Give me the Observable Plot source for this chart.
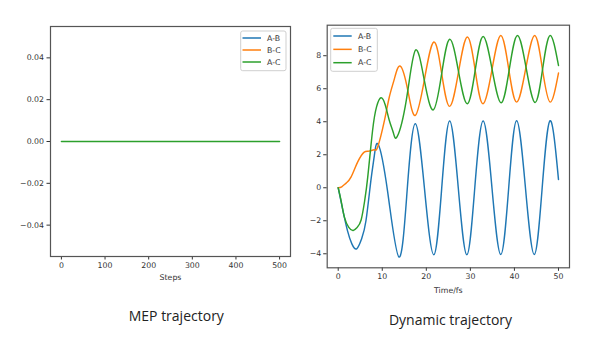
<!DOCTYPE html>
<html><head><meta charset="utf-8">
<script src="https://cdn.jsdelivr.net/npm/d3@7"></script>
<script src="https://cdn.jsdelivr.net/npm/@observablehq/plot@0.6"></script>
<style>
html,body{margin:0;padding:0;background:#fff;}
#wrap{position:relative;width:600px;height:337px;overflow:hidden;}
#wrap svg{overflow:visible;}
.panel{position:absolute;top:0;}
</style></head><body><div id="wrap"></div>
<script>
// ---------- data ----------
const seriesNames = ["A-B", "B-C", "A-C"];
const seriesColors = ["#1f77b4", "#ff7f0e", "#2ca02c"];

// MEP trajectory (all flat at zero)
const mepSteps = [0, 500];
const mepAB = [0, 0];
const mepBC = [0, 0];
const mepAC = [0, 0];
const mepXTicks = [0, 100, 200, 300, 400, 500];
const mepYTicks = [-0.04, -0.02, 0, 0.02, 0.04];

// Dynamic trajectory
const abTime = [0, 1.0, 2.1, 3.1, 4.2, 5.3, 6.3, 7.4, 8.2, 9.1, 11.2, 13.8, 15.65, 17.5, 19.6, 21.7, 23.5, 25.3, 27.25, 29.2, 31.0, 32.9, 34.9, 36.9, 38.7, 40.5, 42.5, 44.5, 46.3, 48.1, 50];
const abDist = [0, -1.3, -2.6, -3.4, -3.7, -3.1, -2.0, 0.4, 1.95, 2.62, -0.2, -4.2, -0.15, 3.88, -0.1, -4.06, 0, 4.04, 0, -4.06, 0, 4.04, 0, -4.04, 0, 4.06, 0, -4.04, 0, 4.06, 0.5];

const bcTime = [0, 0.8, 1.8, 2.9, 4.4, 5.9, 7.0, 8.2, 9.0, 10.5, 11.6, 12.75, 14.1, 15.8, 17.5, 19.6, 21.7, 23.5, 25.3, 27.3, 29.3, 31.1, 32.85, 34.9, 36.9, 38.7, 40.5, 42.55, 44.6, 46.35, 48.1, 50];
const bcDist = [0, 0.06, 0.28, 0.64, 1.55, 2.16, 2.22, 2.3, 2.5, 4.08, 5.5, 6.6, 7.37, 5.9, 4.38, 6.6, 8.83, 6.9, 4.93, 7.0, 9.13, 7.1, 5.09, 7.15, 9.23, 7.2, 5.19, 7.2, 9.23, 7.2, 5.19, 6.95];

const acTime = [0, 0.7, 1.4, 2.4, 3.4, 4.3, 5.2, 6.0, 6.7, 7.8, 8.7, 9.7, 10.7, 11.6, 12.5, 13.4, 15.45, 17.5, 19.55, 21.6, 23.45, 25.3, 27.3, 29.3, 31.1, 32.9, 34.95, 37.0, 38.85, 40.7, 42.7, 44.7, 46.4, 48.1, 50];
const acDist = [0, -0.85, -1.78, -2.4, -2.59, -2.4, -1.95, -0.8, 0.64, 3.47, 4.9, 5.45, 5.0, 4.08, 3.35, 3.11, 5.3, 8.32, 6.5, 4.72, 6.85, 9.0, 7.05, 5.09, 7.13, 9.17, 7.15, 5.15, 7.2, 9.23, 7.2, 5.17, 7.2, 9.23, 7.41];

const dynXTicks = [0, 10, 20, 30, 40, 50];
const dynYTicks = [-4, -2, 0, 2, 4, 6, 8];

const captions = ["MEP trajectory", "Dynamic trajectory"];
const xLabels = ["Steps", "Time/fs"];

// ---------- helpers ----------
const toRows = (xs, ys) => xs.map((x, i) => ({x, y: ys[i]}));
const baseStyle = {fontFamily: "DejaVu Sans, sans-serif", fontSize: "7.8px", color: "#333", background: "transparent", overflow: "visible"};

function seriesMarks(sets, curve, widths = [1.45, 1.45, 1.45]) {
  return sets.map((rows, i) => Plot.line(rows, {x: "x", y: "y", stroke: seriesColors[i], strokeWidth: widths[i], curve}));
}

const wrap = document.getElementById("wrap");

// ---------- left panel ----------
const mepPlot = Plot.plot({
  width: 300, height: 337,
  marginLeft: 50, marginRight: 10, marginTop: 26, marginBottom: 81,
  style: baseStyle,
  x: {domain: [-25, 525]},
  y: {domain: [-0.055, 0.055]},
  marks: [
    ...seriesMarks([toRows(mepSteps, mepAB), toRows(mepSteps, mepBC), toRows(mepSteps, mepAC)], "linear", [0.8, 0.8, 1.5]),
    Plot.axisX({ticks: mepXTicks, tickSize: 3.5, tickPadding: 2.5, label: null, stroke: "#333"}),
    Plot.axisY({ticks: mepYTicks, tickSize: 3.5, tickPadding: 3, label: null, tickFormat: d3.format(".2f"), stroke: "#333"}),
    Plot.frame({stroke: "#555", strokeWidth: 1.2}),
    Plot.text([xLabels[0]], {frameAnchor: "bottom", dy: 20.7, text: d => d, fill: "#333", lineAnchor: "middle"})
  ]
});
mepPlot.classList.add("panel");
mepPlot.style.left = "0px";
wrap.appendChild(mepPlot);

// ---------- right panel ----------
const dynPlot = Plot.plot({
  width: 300, height: 337,
  marginLeft: 26.7, marginRight: 31, marginTop: 24.7, marginBottom: 69.7,
  style: baseStyle,
  x: {domain: [-2.5, 52.5]},
  y: {domain: [-4.85, 9.85]},
  marks: [
    ...seriesMarks([toRows(abTime, abDist), toRows(bcTime, bcDist), toRows(acTime, acDist)], "natural"),
    Plot.axisX({ticks: dynXTicks, tickSize: 3.5, tickPadding: 2.5, label: null, stroke: "#333"}),
    Plot.axisY({ticks: dynYTicks, tickSize: 3.5, tickPadding: 2.5, label: null, stroke: "#333"}),
    Plot.frame({stroke: "#555", strokeWidth: 1.2}),
    Plot.text([xLabels[1]], {frameAnchor: "bottom", dy: 22.7, text: d => d, fill: "#333", lineAnchor: "middle"})
  ]
});
dynPlot.classList.add("panel");
dynPlot.style.left = "300px";
wrap.appendChild(dynPlot);

// ---------- overlay: legends and captions ----------
const svg = d3.select(wrap).append("svg")
  .attr("width", 600).attr("height", 337)
  .style("position", "absolute").style("left", 0).style("top", 0);

function legend(box, lineX1, lineX2, textX, rowY0, rowStep) {
  svg.append("rect").attr("x", box[0]).attr("y", box[1]).attr("width", box[2]).attr("height", box[3])
    .attr("rx", 2).attr("fill", "rgba(255,255,255,0.85)").attr("stroke", "#cfcfcf").attr("stroke-width", 1);
  seriesNames.forEach((name, i) => {
    const y = rowY0 + i * rowStep;
    svg.append("line").attr("x1", lineX1).attr("x2", lineX2).attr("y1", y).attr("y2", y)
      .attr("stroke", seriesColors[i]).attr("stroke-width", 1.5);
    svg.append("text").attr("x", textX).attr("y", y).attr("dy", "0.35em")
      .attr("font-family", "DejaVu Sans, sans-serif").attr("font-size", 7.8).attr("fill", "#333").text(name);
  });
}
legend([240.7, 31, 45.3, 39.7], 242.5, 261, 267, 38, 12);
legend([330.7, 28.3, 46.6, 43], 333.3, 351.7, 358, 36, 13.35);

svg.append("text").attr("x", 176.3).attr("y", 320.5).attr("text-anchor", "middle")
  .attr("font-family", "Open Sans, sans-serif").attr("font-size", 14).attr("fill", "#222").text(captions[0]);
svg.append("text").attr("x", 450.5).attr("y", 325).attr("text-anchor", "middle")
  .attr("font-family", "Open Sans, sans-serif").attr("font-size", 14).attr("fill", "#222").text(captions[1]);
</script></body></html>
